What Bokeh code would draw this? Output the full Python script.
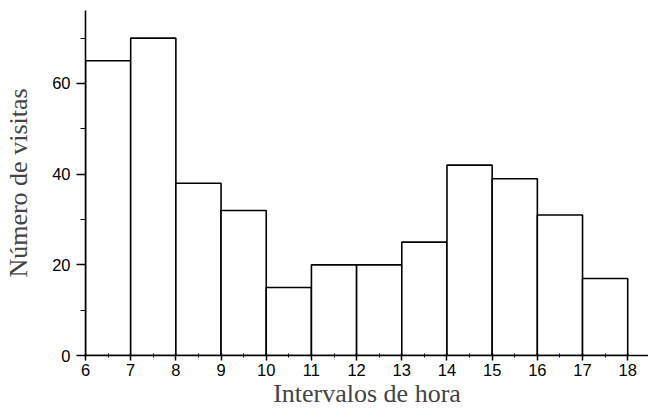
from bokeh.plotting import figure
from bokeh.models import FixedTicker, Range1d
from bokeh.embed import file_html
from bokeh.resources import INLINE

bin_starts = [6, 7, 8, 9, 10, 11, 12, 13, 14, 15, 16, 17]
bin_ends = [7, 8, 9, 10, 11, 12, 13, 14, 15, 16, 17, 18]
visitas = [65, 70, 38, 32, 15, 20, 20, 25, 42, 39, 31, 17]
x_ticks = [6, 7, 8, 9, 10, 11, 12, 13, 14, 15, 16, 17, 18]
y_ticks = [0, 20, 40, 60]

p = figure(width=648, height=410, output_backend="svg", toolbar_location=None,
           x_range=Range1d(6, 18.46), y_range=Range1d(0, 76.1),
           min_border_left=85, min_border_right=0, min_border_top=10, min_border_bottom=55)
p.outline_line_color = None
p.xgrid.visible = False
p.ygrid.visible = False

p.quad(left=bin_starts, right=bin_ends, top=visitas, bottom=[0]*len(visitas),
       fill_color="white", line_color="black", line_width=1.6)

p.xaxis.ticker = FixedTicker(ticks=x_ticks, minor_ticks=[t + 0.5 for t in x_ticks])
p.yaxis.ticker = FixedTicker(ticks=y_ticks, minor_ticks=[10, 30, 50, 70])

for ax in (p.xaxis[0], p.yaxis[0]):
    ax.axis_line_width = 1.6
    ax.axis_line_color = "black"
    ax.major_tick_line_color = "black"
    ax.major_tick_line_width = 1.5
    ax.minor_tick_line_color = "black"
    ax.minor_tick_line_width = 1
    ax.major_label_text_font = "Liberation Sans"
    ax.major_label_text_font_size = "16.5px"
    ax.major_label_text_color = "black"
    ax.axis_label_text_font = "Liberation Serif"
    ax.axis_label_text_font_size = "26px"
    ax.axis_label_text_font_style = "normal"
    ax.axis_label_text_color = "#444444"

p.xaxis.major_tick_out = 5
p.xaxis.major_tick_in = 2
p.xaxis.minor_tick_out = 2
p.xaxis.minor_tick_in = 2
p.xaxis.major_label_standoff = 3
p.xaxis.axis_label = "Intervalos de hora"
p.xaxis.axis_label_standoff = 0

p.yaxis.major_tick_out = 9
p.yaxis.major_tick_in = 0
p.yaxis.minor_tick_out = 5
p.yaxis.minor_tick_in = 0
p.yaxis.major_label_standoff = 6
p.yaxis.axis_label = "Número de visitas"
p.yaxis.axis_label_standoff = 16

open("out.html", "w").write(file_html(p, INLINE))
